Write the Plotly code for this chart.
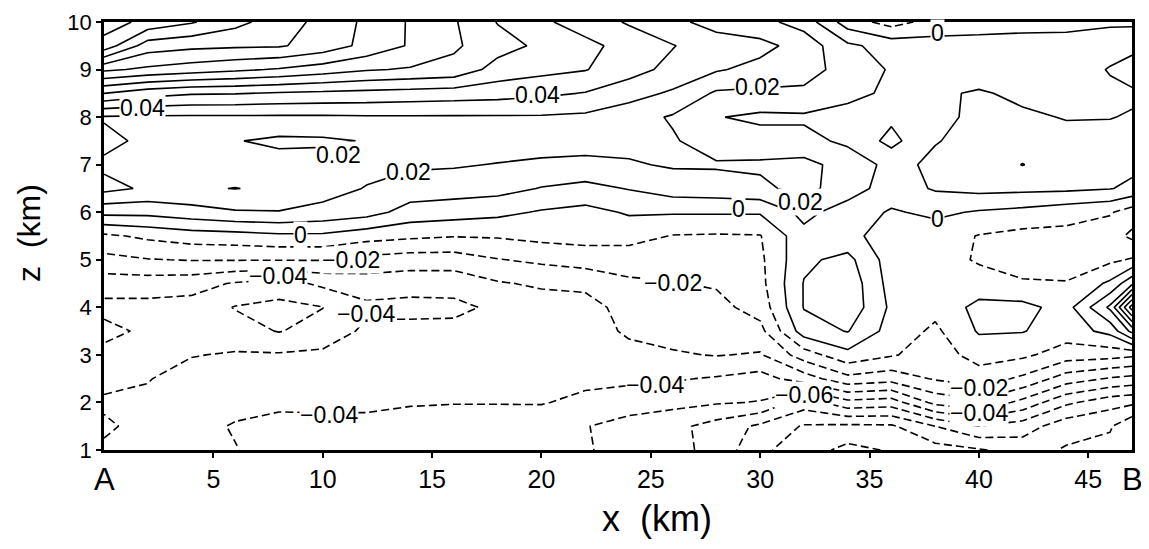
import numpy as np
import plotly.graph_objects as go

# horizontal distance along A-B (km) and height (km) of the analysis grid
x_km = [0, 2, 4, 6, 8, 10, 12, 14, 16, 18, 20, 22, 24, 26, 28, 30, 32, 34, 36, 38, 40, 42, 44, 46, 47]
z_km = [1.0, 1.5, 2.0, 2.5, 3.0, 3.5, 4.0, 4.5, 5.0, 5.5, 6.0, 6.5, 7.0, 7.5, 8.0, 8.5, 9.0, 9.5, 10.0]

# field values, in units of 0.01 (one row per height)
w_z1_0 = [-3.8, -3.7, -3.8, -3.95, -4.5, -4.6, -4.7, -4.7, -4.8, -4.9, -4.8, -4.9, -5.4, -5.7, -6.3, -7.8, -8.5, -9.3, -8.9, -8.4, -8.1, -7.6, -8.1, -8.3, -8.5]
w_z1_5 = [-4.2, -3.6, -3.6, -4.1, -4.3, -4.4, -4.4, -4.5, -4.6, -4.6, -4.5, -4.95, -5.4, -5.7, -6.4, -7.2, -8.1, -8.2, -8.15, -7.0, -6.0, -6.5, -7.6, -7.9, -8.8]
w_z2_0 = [-3.8, -3.8, -3.4, -3.6, -3.8, -3.7, -3.7, -3.9, -3.95, -3.95, -3.95, -4.2, -4.5, -4.7, -4.9, -5.05, -6.5, -5.3, -5.5, -3.7, -3.2, -4.3, -5.8, -6.6, -6.8]
w_z2_5 = [-4.4, -4.05, -3.6, -3.5, -3.4, -3.3, -3.3, -3.3, -3.3, -3.3, -3.5, -3.8, -3.8, -3.9, -4.1, -4.4, -3.5, -2.3, -2.6, -1.9, -1.5, -2.2, -3.5, -4.1, -4.3]
w_z3_0 = [-4.3, -4.3, -4.05, -3.9, -3.9, -3.8, -3.4, -3.3, -3.3, -3.3, -3.4, -3.5, -3.4, -3.1, -2.95, -3.1, -1.5, -0.3, -0.9, -1.5, -0.6, -0.8, -1.5, -1.6, -1.8]
w_z3_5 = [-3.7, -4.2, -4.4, -4.6, -5.05, -4.6, -3.8, -3.7, -3.7, -3.6, -3.6, -3.6, -2.8, -2.65, -2.6, -2.3, 0.5, 1.05, -0.4, -1.2, 0.1, 0.05, -0.5, 0.3, 2.3]
w_z4_0 = [-4.3, -4.3, -4.4, -5.05, -5.3, -5.02, -4.2, -4.3, -4.25, -3.8, -3.5, -3.5, -2.5, -2.35, -2.3, -1.6, 1.05, 1.7, -0.2, -0.7, 0.3, 0.3, -0.4, 2.2, 6.5]
w_z4_5 = [-3.5, -3.5, -3.6, -4.1, -4.4, -3.8, -3.5, -3.6, -3.6, -3.1, -2.85, -2.7, -2.15, -2.05, -1.9, -1.3, 1.05, 1.7, -0.4, -0.6, -0.6, -0.9, -0.95, 0.2, 1.8]
w_z5_0 = [-2.3, -2.05, -1.95, -1.95, -1.95, -1.95, -2.3, -2.5, -2.5, -2.05, -1.8, -1.6, -1.6, -1.55, -1.4, -1.2, 0.8, 1.3, -0.5, -0.6, -1.1, -1.4, -1.4, -1.2, -0.9]
w_z5_5 = [-1.2, -0.8, -0.5, -0.4, -0.2, -0.2, -0.6, -0.8, -0.95, -0.9, -0.7, -0.6, -0.6, -1.05, -1.1, -1.05, 0.7, 0.3, -0.5, -0.5, -1.05, -1.3, -1.3, -1.6, -2.2]
w_z6_0 = [1.3, 1.3, 1.6, 1.9, 1.95, 1.7, 1.4, 0.6, 0.45, 0.25, -0.1, -0.3, 0.1, 0.1, 0.1, 0.1, 1.3, 0.5, -0.1, 0.2, -0.1, -0.3, -0.6, -0.9, -1.5]
w_z6_5 = [3.3, 2.85, 2.9, 3.02, 2.85, 2.4, 1.95, 1.55, 1.45, 1.35, 0.95, 0.7, 1.05, 1.5, 1.6, 1.8, 2.3, 1.5, 0.5, 1.1, 1.3, 1.25, 1.2, 1.05, 0.75]
w_z7_0 = [2.8, 2.7, 2.6, 2.5, 2.4, 2.4, 2.3, 2.15, 2.1, 1.95, 1.8, 1.75, 1.9, 2.1, 2.1, 2.15, 2.3, 1.6, 0.7, 1.2, 1.4, 2.03, 1.4, 1.3, 1.3]
w_z7_5 = [3.3, 2.75, 2.5, 2.05, 1.8, 1.85, 2.05, 2.5, 2.6, 2.6, 2.5, 2.4, 2.3, 2.1, 1.5, 1.4, 1.3, 0.8, -0.3, 0.95, 1.3, 1.4, 1.3, 1.2, 1.15]
w_z8_0 = [2.9, 2.85, 2.85, 2.85, 2.85, 2.85, 2.9, 2.9, 2.9, 2.9, 2.9, 2.8, 2.4, 1.9, 1.05, 0.8, 0.85, 0.6, 0.2, 0.7, 1.25, 1.15, 0.95, 0.98, 1.05]
w_z8_5 = [6.0, 5.4, 5.1, 5.05, 4.9, 4.8, 4.7, 4.6, 4.5, 4.4, 4.2, 3.95, 3.4, 2.85, 1.85, 1.8, 1.8, 1.3, 0.8, 0.85, 1.1, 0.8, 0.7, 0.85, 0.9]
w_z9_0 = [9.2, 8.8, 8.5, 8.2, 7.9, 7.5, 7.1, 6.9, 6.7, 5.6, 5.3, 5.05, 4.4, 3.7, 3.1, 2.7, 2.4, 1.6, 0.9, 0.5, 0.5, 0.55, 0.6, 1.05, 1.3]
w_z9_5 = [12.6, 10.5, 10.25, 10.15, 10.1, 9.6, 8.7, 7.9, 7.15, 6.4, 5.8, 5.3, 4.6, 4.05, 3.4, 3.3, 2.6, 1.2, 0.6, 0.4, 0.35, 0.35, 0.4, 0.7, 0.8]
w_z10_0 = [13.5, 12.7, 12.1, 11.3, 10.5, 9.7, 8.8, 7.9, 7.1, 5.95, 5.2, 4.5, 3.9, 3.2, 2.7, 2.3, 1.6, -0.5, -1.4, -0.6, -0.4, -0.3, -0.3, -0.2, -0.2]

# contour labels as printed on the figure
label_text = ["0.04", "0.02", "0.02", "0", "\u22120.02", "\u22120.04", "\u22120.04", "\u22120.04",
              "0.04", "0.02", "0", "0", "0.02", "0", "\u22120.02", "\u22120.04", "\u22120.06",
              "\u22120.02", "\u22120.04"]
label_x = [1.75, 10.7, 13.9, 8.97, 11.3, 7.96, 12.0, 10.3,
           19.8, 29.9, 38.1, 29.0, 31.85, 38.1, 26.0, 25.2, 32.0,
           40.0, 40.0]
label_z = [8.2, 7.21, 6.84, 5.52, 5.0, 4.66, 3.87, 1.73,
           8.47, 8.64, 9.77, 6.06, 6.21, 5.85, 4.51, 2.36, 2.15,
           2.3, 1.77]

x_tickvals = [5, 10, 15, 20, 25, 30, 35, 40, 45]
x_ticktext = ["5", "10", "15", "20", "25", "30", "35", "40", "45"]
y_tickvals = [1, 2, 3, 4, 5, 6, 7, 8, 9, 10]
y_ticktext = ["1", "2", "3", "4", "5", "6", "7", "8", "9", "10"]
end_labels = ["A", "B"]
end_x = [0, 47]

rows = [w_z1_0, w_z1_5, w_z2_0, w_z2_5, w_z3_0, w_z3_5, w_z4_0, w_z4_5, w_z5_0, w_z5_5,
        w_z6_0, w_z6_5, w_z7_0, w_z7_5, w_z8_0, w_z8_5, w_z9_0, w_z9_5, w_z10_0]
w = np.array(rows) / 100.0

black = [[0, "black"], [1, "black"]]
fig = go.Figure()
fig.add_trace(go.Contour(
    x=x_km, y=z_km, z=w, showscale=False, colorscale=black, hoverinfo="skip",
    autocontour=False,
    contours=dict(coloring="lines", start=-0.10, end=-0.005, size=0.01, showlabels=False),
    line=dict(width=1.6, dash="8px,4px", smoothing=0),
))
fig.add_trace(go.Contour(
    x=x_km, y=z_km, z=w, showscale=False, colorscale=black, hoverinfo="skip",
    autocontour=False,
    contours=dict(coloring="lines", start=0.0, end=0.145, size=0.01, showlabels=False),
    line=dict(width=1.6, smoothing=0),
))

FONT = "Liberation Sans, Arial, sans-serif"
for t, lx, lz in zip(label_text, label_x, label_z):
    fig.add_annotation(x=lx, y=lz, xref="x", yref="y", text=t, showarrow=False,
                       font=dict(family=FONT, size=23, color="black"),
                       bgcolor="white", borderpad=0, xanchor="center", yanchor="middle")

for t, ex in zip(end_labels, end_x):
    fig.add_annotation(x=ex, y=-0.068, xref="x", yref="paper", text=t, showarrow=False,
                       font=dict(family=FONT, size=31, color="black"),
                       xanchor="center", yanchor="middle")

fig.add_annotation(x=0.538, y=-0.16, xref="paper", yref="paper", text="x\u00a0\u00a0(km)",
                   showarrow=False, font=dict(family=FONT, size=36, color="black"),
                   xanchor="center", yanchor="middle")
fig.add_annotation(x=-0.073, y=0.507, xref="paper", yref="paper", text="z\u00a0\u00a0(km)",
                   showarrow=False, textangle=-90, font=dict(family=FONT, size=32, color="black"),
                   xanchor="center", yanchor="middle")

# the page body adds an 8 px margin, so the figure is sized/offset to compensate
fig.update_layout(
    width=1141, height=541,
    margin=dict(l=96, r=17, t=14, b=99, autoexpand=False),
    paper_bgcolor="white", plot_bgcolor="white",
    showlegend=False,
    xaxis=dict(range=[0, 47], tickvals=x_tickvals, ticktext=x_ticktext, automargin=False,
               ticklabeloverflow="allow",
               showgrid=False, zeroline=False, showline=True, linecolor="black", linewidth=2.5,
               mirror=True, ticks="outside", ticklen=5, tickwidth=1.5, tickcolor="black",
               tickfont=dict(family=FONT, size=25, color="black")),
    yaxis=dict(range=[1, 10], tickvals=y_tickvals, ticktext=y_ticktext, automargin=False,
               ticklabeloverflow="allow",
               showgrid=False, zeroline=False, showline=True, linecolor="black", linewidth=2.5,
               mirror=True, ticks="outside", ticklen=5, tickwidth=1.5, tickcolor="black",
               tickfont=dict(family=FONT, size=22, color="black")),
)

fig.write_html("out.html")
